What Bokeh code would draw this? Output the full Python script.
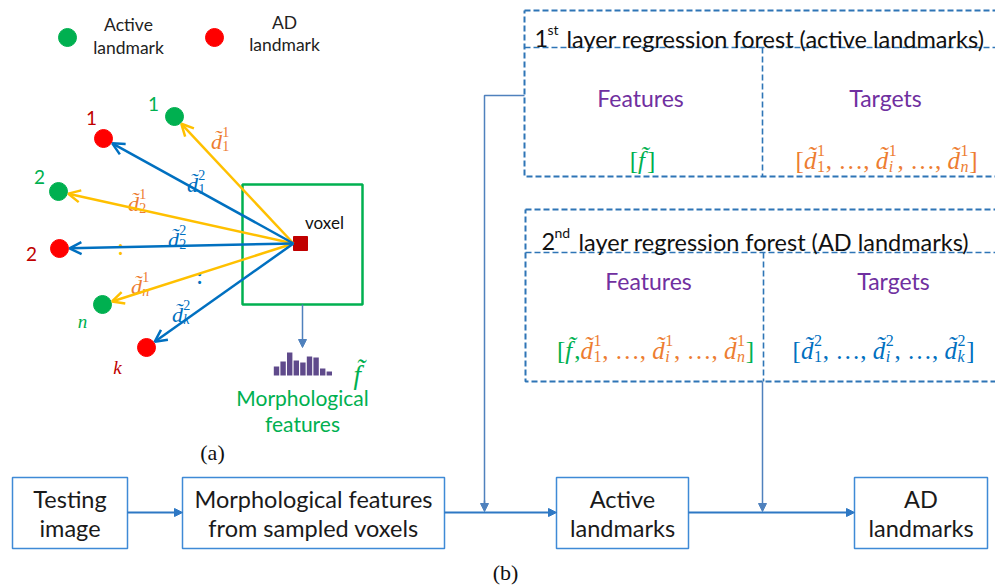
import math
from bokeh.plotting import figure
from bokeh.models import Range1d, ColumnDataSource, Arrow, OpenHead, NormalHead
from bokeh.core.properties import value
from bokeh.embed import file_html
from bokeh.resources import INLINE

W, H = 995, 588

# ---------------- content ----------------
legend_names = [["Active", "landmark"], ["AD", "landmark"]]
legend_x = [67, 214]

active_names = ["1", "2", "n"]
active_x = [174, 58, 102]
active_y = [116, 191, 304]
ad_names = ["1", "2", "k"]
ad_x = [103, 59, 146]
ad_y = [138, 248, 347]
voxel_xy = (300, 243)

# sub-indices of the distance labels on each arrow
active_subs = ["1", "2", "n"]
ad_subs = ["1", "2", "k"]

# morphological feature histogram (bar heights, px)
hist_heights = [9, 14, 23, 15, 13, 19, 18, 7, 4]

flow_steps = [["Testing", "image"],
              ["Morphological features", "from sampled voxels"],
              ["Active", "landmarks"],
              ["AD", "landmarks"]]
flow_left = [12, 182, 556, 854]
flow_right = [127, 444, 688, 987]

forest_titles = [("1", "st", "layer regression forest (active landmarks)"),
                 ("2", "nd", "layer regression forest (AD landmarks)")]

# ---------------- colours / fonts ----------------
GREEN = "#00b050"
RED = "#ff0000"
DARKRED = "#c00000"
YELLOW = "#ffc000"
BLUE = "#0070c0"
ORANGE = "#ed7d31"
PURPLE = "#7030a0"
DASH = "#2e75b6"
FLOW = "#2e78c4"
BOXLINE = "#3f8ad6"
HIST = "#5f4a8b"
SANS = "Lato"
SERIF = "Liberation Serif"

p = figure(width=W, height=H, x_range=Range1d(0, W), y_range=Range1d(H, 0),
           output_backend="svg", toolbar_location=None, min_border=0,
           outline_line_color=None, background_fill_color="white")
p.axis.visible = False
p.grid.visible = False

pieces = {}


def put(x, y, text, color="#1a1a1a", size=20, style="normal", font=SANS,
        align="center", baseline="middle"):
    key = (font, align, baseline)
    d = pieces.setdefault(key, dict(x=[], y=[], text=[], color=[], size=[], style=[]))
    d["x"].append(x)
    d["y"].append(y)
    d["text"].append(text)
    d["color"].append(color)
    d["size"].append(f"{size}px")
    d["style"].append(style)


# ---------- math-ish formula layout ----------
WTAB = {"[": .333, "]": .333, ",": .25, " ": .25, "\u2026": 1.0, "d": .5,
        "f": .36, "i": .28, "n": .5, "k": .44}


def wid(t, s):
    return sum(WTAB.get(c, .5) for c in t if c != "\u0303") * s


def formula(cx, cy, tokens, s):
    """tokens: (text, colour, sup, sub); sup/sub None for plain symbols."""
    sc = 0.64
    parts = []
    total = 0
    for t, c, sup, sub in tokens:
        w = wid(t, s)
        if sup is not None:
            w += max(wid(sup, s * sc), wid(sub, s * sc)) + 0.05 * s
        parts.append((t, c, sup, sub, w))
        total += w
    x = cx - total / 2
    base = cy + 0.32 * s
    for t, c, sup, sub, w in parts:
        italic = t.strip("\u0303").isalpha()
        put(x, base, t, c, s, "italic" if italic else "normal", SERIF, "left", "alphabetic")
        if sup is not None:
            xs = x + wid(t, s) + 0.02 * s
            put(xs, base - 0.42 * s, sup, c, round(s * sc, 1), "normal", SERIF, "left", "alphabetic")
            put(xs, base + 0.22 * s, sub, c, round(s * sc, 1),
                "italic" if sub.isalpha() else "normal", SERIF, "left", "alphabetic")
        x += w


D = "d\u0303"
F = "f\u0303"

# ---------------- (a) landmark panel ----------------
for lx, col in zip(legend_x, [GREEN, RED]):
    p.scatter([lx], [37], size=18, color=col)
put(128, 24, legend_names[0][0], "#222", 17.5)
put(128, 47, legend_names[0][1], "#222", 17.5)
put(284, 22, legend_names[1][0], "#222", 17.5)
put(284, 44, legend_names[1][1], "#222", 17.5)

# voxel neighbourhood box
p.quad(left=[242], right=[362], top=[184], bottom=[304], fill_color=None,
       line_color=GREEN, line_width=2.5)
put(324, 222, "voxel", "#111", 17)

vx0, vy0 = voxel_xy[0] - 7, voxel_xy[1]


def arrow_src(xs, ys, r=10):
    x0, y0, x1, y1 = [], [], [], []
    for x, y in zip(xs, ys):
        dx, dy = vx0 - x, vy0 - y
        L = math.hypot(dx, dy)
        x0.append(vx0)
        y0.append(vy0)
        x1.append(x + dx / L * r)
        y1.append(y + dy / L * r)
    return ColumnDataSource(dict(x0=x0, y0=y0, x1=x1, y1=y1))


for xs, ys, col in [(active_x, active_y, YELLOW), (ad_x, ad_y, BLUE)]:
    p.add_layout(Arrow(end=OpenHead(size=12, line_color=col, line_width=2.5),
                       x_start="x0", y_start="y0", x_end="x1", y_end="y1",
                       source=arrow_src(xs, ys), line_color=col, line_width=2.5))

p.scatter(active_x, active_y, size=18, color=GREEN)
p.scatter(ad_x, ad_y, size=18, color=RED)
p.scatter([voxel_xy[0]], [voxel_xy[1]], marker="square", size=14, color=DARKRED)

# landmark indices
for name, x, y in zip(active_names, [153, 39, 82], [103, 176, 321]):
    put(x, y, name, GREEN, 19, "italic" if name.isalpha() else "normal",
        SERIF if name.isalpha() else SANS)
for name, x, y in zip(ad_names, [91, 31, 117], [117, 253, 367]):
    put(x, y, name, DARKRED, 19, "italic" if name.isalpha() else "normal",
        SERIF if name.isalpha() else SANS)

# distance labels on the arrows
for sub, (x, y) in zip(active_subs, [(220, 134), (137, 196), (140, 279)]):
    formula(x, y, [(D, ORANGE, "1", sub)], 22)
for sub, (x, y) in zip(ad_subs, [(196, 177), (177, 232), (181, 307)]):
    formula(x, y, [(D, BLUE, "2", sub)], 22)
put(120, 246, ":", YELLOW, 20, "bold")
put(199, 275, ":", BLUE, 20, "bold")

# features: arrow down to histogram
p.add_layout(Arrow(end=NormalHead(size=8, fill_color="#4f81bd", line_color="#4f81bd"),
                   x_start=302, y_start=304, x_end=302, y_end=347,
                   line_color="#4f81bd", line_width=1.5))
n = len(hist_heights)
hx = [276 + i * 6.6 for i in range(n)]
p.vbar(x=hx, width=5.4, bottom=375, top=[375 - h for h in hist_heights],
       fill_color=HIST, line_color=None)
put(353, 374, F, GREEN, 27, "italic", SERIF, "left", "alphabetic")
put(302, 397, "Morphological", GREEN, 21)
put(302, 423, "features", GREEN, 21)
put(212, 452, "(a)", "#111", 22, font=SERIF)

# ---------------- (b) forests ----------------
boxes = [dict(top=10, head=47, bottom=176, left=524, mid=762),
         dict(top=209, head=252, bottom=381, left=525, mid=763)]
for b in boxes:
    R = 1003
    p.line([b["left"], R, R, b["left"], b["left"]],
           [b["top"], b["top"], b["bottom"], b["bottom"], b["top"]],
           line_color=DASH, line_width=2, line_dash="6 3")
    p.line([b["left"], R], [b["head"], b["head"]], line_color=DASH,
           line_width=1.6, line_dash="6 3")
    p.line([b["mid"], b["mid"]], [b["head"], b["bottom"]], line_color=DASH,
           line_width=1.6, line_dash="6 3")

(t1a, t1b, t1c), (t2a, t2b, t2c) = forest_titles
put(534, 38, t1a, "#111", 23.5, align="left", baseline="alphabetic")
put(547, 29, t1b, "#111", 14, align="left", baseline="alphabetic")
put(566, 38, t1c, "#111", 23.5, align="left", baseline="alphabetic")
put(541, 241, t2a, "#111", 23.5, align="left", baseline="alphabetic")
put(554, 232, t2b, "#111", 14, align="left", baseline="alphabetic")
put(578, 241, t2c, "#111", 23.5, align="left", baseline="alphabetic")

for fx, tx, fy in [(640, 885, 97), (648, 893, 280)]:
    put(fx, fy, "Features", PURPLE, 23)
    put(tx, fy, "Targets", PURPLE, 23)

formula(642, 152, [("[", GREEN, None, None), (F, GREEN, None, None), ("]", GREEN, None, None)], 25)
formula(886, 152, [("[", ORANGE, None, None), (D, ORANGE, "1", "1"), (", \u2026, ", ORANGE, None, None),
                   (D, ORANGE, "1", "i"), (", \u2026, ", ORANGE, None, None),
                   (D, ORANGE, "1", "n"), ("]", ORANGE, None, None)], 25)
formula(655, 342, [("[", GREEN, None, None), (F, GREEN, None, None), (",", GREEN, None, None),
                   (D, ORANGE, "1", "1"), (", \u2026, ", ORANGE, None, None),
                   (D, ORANGE, "1", "i"), (", \u2026, ", ORANGE, None, None),
                   (D, ORANGE, "1", "n"), ("]", GREEN, None, None)], 25)
formula(883, 342, [("[", BLUE, None, None), (D, BLUE, "2", "1"), (", \u2026, ", BLUE, None, None),
                   (D, BLUE, "2", "i"), (", \u2026, ", BLUE, None, None),
                   (D, BLUE, "2", "k"), ("]", BLUE, None, None)], 25)

# connectors from the forests down to the pipeline
p.line([524, 484, 484], [95, 95, 505], line_color="#4f81bd", line_width=1.5)
p.add_layout(Arrow(end=NormalHead(size=8, fill_color="#4f81bd", line_color="#4f81bd"),
                   x_start=484, y_start=500, x_end=484, y_end=511,
                   line_color="#4f81bd", line_width=1.5))
p.add_layout(Arrow(end=NormalHead(size=8, fill_color="#4f81bd", line_color="#4f81bd"),
                   x_start=762, y_start=381, x_end=762, y_end=511,
                   line_color="#4f81bd", line_width=1.5))

# ---------------- pipeline ----------------
FY = 512
for a, b in zip(flow_right[:-1], flow_left[1:]):
    p.add_layout(Arrow(end=NormalHead(size=8, fill_color=FLOW, line_color=FLOW),
                       x_start=a, y_start=FY, x_end=b, y_end=FY,
                       line_color=FLOW, line_width=2))
p.quad(left=flow_left, right=flow_right, top=[477] * 4, bottom=[548] * 4,
       fill_color="white", line_color=BOXLINE, line_width=1.5)
for (l1, l2), a, b in zip(flow_steps, flow_left, flow_right):
    put((a + b) / 2, 498, l1, "#1a1a1a", 23.5)
    put((a + b) / 2, 527, l2, "#1a1a1a", 23.5)
put(505, 572, "(b)", "#111", 22, font=SERIF)

for (font, align, baseline), d in pieces.items():
    p.text(x="x", y="y", text="text", source=ColumnDataSource(d),
           text_color="color", text_font_size="size", text_font_style="style",
           text_font=value(font), text_align=align, text_baseline=baseline)

open("out.html", "w").write(file_html(p, INLINE))
